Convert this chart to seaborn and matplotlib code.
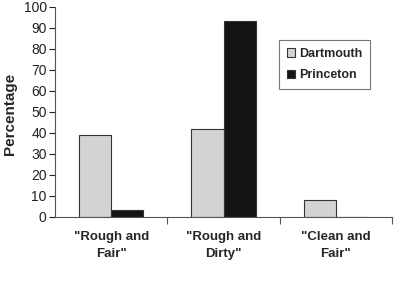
import matplotlib
matplotlib.use("Agg")
import matplotlib.pyplot as plt
import seaborn as sns
import pandas as pd
import numpy as np

categories = ['"Rough and\nFair"', '"Rough and\nDirty"', '"Clean and\nFair"']
dartmouth = [39, 42, 8]
princeton = [3, 93, 0]
series = ["Dartmouth", "Princeton"]

df = pd.DataFrame({
    "cat": categories * 2,
    "school": ["Dartmouth"] * 3 + ["Princeton"] * 3,
    "val": dartmouth + princeton,
})

sns.set_style("white")
plt.rcParams['font.family'] = ['Liberation Sans', 'DejaVu Sans']

fig = plt.figure(figsize=(4, 2.83), dpi=100)
ax = fig.add_axes([0.1375, 0.234, 0.8425, 0.742])
sns.barplot(data=df, x="cat", y="val", hue="school", order=categories,
            hue_order=series, palette=["#d3d3d3", "#141414"],
            edgecolor="#333333", linewidth=0.8, width=0.57, ax=ax, saturation=1)

ax.set_xlim(-0.5, 2.5)
ax.set_ylim(0, 100)
ax.set_yticks(range(0, 101, 10))
ax.tick_params(axis="y", labelsize=10, length=4, width=0.8, direction="out", pad=2, left=True, colors="#222222")
ax.tick_params(axis="x", which="major", length=0, labelsize=9.5, pad=10)
ax.set_xticks([0.5, 1.5, 2.5], minor=True)
ax.tick_params(axis="x", which="minor", length=5, width=0.8, direction="out", bottom=True, color="#555555")
for lab in ax.get_xticklabels():
    lab.set_fontweight("bold")
    lab.set_linespacing(1.6)
ax.set_xlabel("")
ax.set_ylabel("Percentage", fontsize=11, fontweight="bold")
ax.yaxis.set_label_coords(-0.112, 0.49)
for s in ["top", "right"]:
    ax.spines[s].set_visible(False)
for s in ["left", "bottom"]:
    ax.spines[s].set_color("#555555")
    ax.spines[s].set_linewidth(0.8)

leg = ax.legend(loc="upper left", bbox_to_anchor=(0.665, 0.84), frameon=True,
                fancybox=False, edgecolor="#555555", borderaxespad=0,
                handlelength=0.7, handleheight=0.7, handletextpad=0.3,
                borderpad=0.6, labelspacing=0.75, prop={"weight": "bold", "size": 9})
leg.get_frame().set_linewidth(0.8)

fig.savefig("out.png", dpi=100)
